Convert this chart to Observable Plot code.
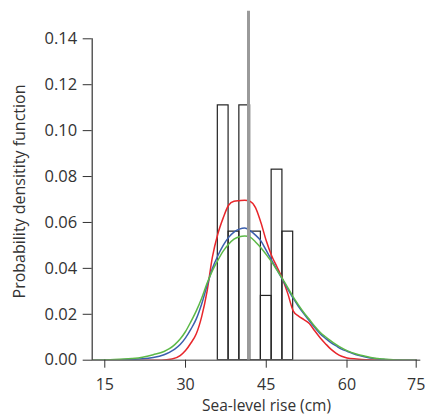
<!DOCTYPE html>
<html><head><meta charset="utf-8">
<script src="https://cdn.jsdelivr.net/npm/d3@7"></script>
<script src="https://cdn.jsdelivr.net/npm/@observablehq/plot@0.6"></script>
<style>body{margin:0;background:#fff} svg{display:block}</style>
</head><body><div id="chart"></div>
<script>
// Histogram (bin edges in cm, probability density)
const binEdges = [36, 38, 40, 42, 44, 46, 48, 50];
const binDensity = [0.111, 0.056, 0.111, 0.056, 0.028, 0.083, 0.056];

// Red density curve
const redX = [12.7, 25.5, 27.5, 29, 30, 31, 32, 33, 34, 35, 36, 37, 38, 39, 40, 41, 42, 43, 44, 45, 46, 47, 48, 49, 50, 51, 52, 53, 54, 55, 56, 57, 58, 59, 60, 62, 64, 67, 70, 75];
const redY = [0, 0, 0.0005, 0.002, 0.0042, 0.0075, 0.0115, 0.019, 0.030, 0.045, 0.055, 0.062, 0.0675, 0.0692, 0.0695, 0.0697, 0.0692, 0.0665, 0.060, 0.052, 0.0455, 0.0406, 0.0355, 0.029, 0.0215, 0.0192, 0.0177, 0.016, 0.0128, 0.0098, 0.0072, 0.0048, 0.003, 0.0017, 0.001, 0.0005, 0.0002, 0.0001, 0, 0];

// Blue density curve
const blueX = [12.7, 18, 22, 24, 26, 27, 28, 29, 30, 31, 32, 33, 34, 35, 36, 37, 38, 39, 40, 41, 42, 43, 44, 45, 46, 47, 48, 49, 50, 51, 52, 53, 54, 55, 56, 57, 58, 59, 60, 62, 64, 66, 68, 70, 75];
const blueY = [0, 0.0002, 0.0006, 0.0012, 0.0024, 0.0034, 0.0048, 0.0068, 0.0097, 0.0135, 0.018, 0.0245, 0.0325, 0.0400, 0.0455, 0.050, 0.0535, 0.0558, 0.0571, 0.0576, 0.0564, 0.0545, 0.052, 0.0478, 0.0435, 0.0393, 0.0352, 0.031, 0.027, 0.0234, 0.0202, 0.0172, 0.0142, 0.0115, 0.0095, 0.0077, 0.0062, 0.0048, 0.0039, 0.0024, 0.0014, 0.0007, 0.0003, 0.0001, 0];

// Green density curve
const greenX = [12.7, 16, 20, 22, 24, 26, 27, 28, 29, 30, 31, 32, 33, 34, 35, 36, 37, 38, 39, 40, 41, 42, 43, 44, 45, 46, 47, 48, 49, 50, 51, 52, 53, 54, 55, 56, 57, 58, 59, 60, 62, 64, 66, 68, 70, 75];
const greenY = [0, 0.0002, 0.0007, 0.0013, 0.0024, 0.0038, 0.005, 0.0068, 0.0092, 0.0125, 0.0168, 0.0215, 0.027, 0.0335, 0.039, 0.0435, 0.0475, 0.0505, 0.0527, 0.0538, 0.0541, 0.0536, 0.0515, 0.049, 0.046, 0.0428, 0.0392, 0.0355, 0.0316, 0.0276, 0.024, 0.0207, 0.0178, 0.0148, 0.0122, 0.0102, 0.0084, 0.0068, 0.0054, 0.0042, 0.0027, 0.0017, 0.0009, 0.0005, 0.0002, 0];

// Observed value (grey vertical line)
const observedRise = 41.7;
const observedTop = 0.152;

// Axes
const xTicks = [15, 30, 45, 60, 75];
const yTicks = [0, 0.02, 0.04, 0.06, 0.08, 0.10, 0.12, 0.14];
const xLabel = "Sea-level rise (cm)";
const yLabel = "Probability densitity function";

const bins = binDensity.map((d, i) => ({x1: binEdges[i], x2: binEdges[i + 1], y: d}));

const xDomain = [12.66, 60, 76];
const xRange = [91.7, 346.5, 420.3];

const chart = Plot.plot({
  width: 425,
  height: 415,
  marginLeft: 91.7,
  marginRight: 4.7,
  marginTop: 38.3,
  marginBottom: 55.3,
  style: {fontFamily: "'Open Sans', sans-serif", fontSize: "16.5px", color: "#333", background: "#fff"},
  x: {type: "linear", domain: xDomain, range: xRange},
  y: {domain: [0, 0.14]},
  marks: [
    Plot.rectY(bins, {x1: "x1", x2: "x2", y: "y", fill: "none", stroke: "#222", strokeWidth: 1.2}),
    Plot.line(redX, {x: redX, y: redY, stroke: "#e8262b", strokeWidth: 1.5, curve: "monotone-x"}),
    Plot.line(blueX, {x: blueX, y: blueY, stroke: "#3b5fae", strokeWidth: 1.5, curve: "monotone-x"}),
    Plot.line(greenX, {x: greenX, y: greenY, stroke: "#5cb947", strokeWidth: 1.5, curve: "monotone-x"}),
    Plot.ruleX([observedRise], {y1: 0, y2: observedTop, stroke: "#9a9a9a", strokeWidth: 3}),
    Plot.ruleY([0], {stroke: "#777", strokeWidth: 1.5}),
    Plot.ruleX([xDomain[0]], {y1: 0, y2: yTicks[yTicks.length - 1], stroke: "#333", strokeWidth: 1.2}),
    Plot.axisX({ticks: xTicks, tickSize: 8, tickPadding: 10, label: null, color: "#333", fontSize: 16}),
    Plot.axisY({ticks: yTicks, tickFormat: ".2f", tickSize: 9, tickPadding: 6, label: null, color: "#333", fontSize: 16.5}),
    Plot.text([xLabel], {frameAnchor: "bottom", textAnchor: "middle", lineAnchor: "middle", dx: 10, dy: 46, fill: "#333", fontSize: 15.5}),
    Plot.text([yLabel], {frameAnchor: "left", textAnchor: "middle", lineAnchor: "middle", rotate: -90, dx: -72.7, dy: -8, fill: "#333", fontSize: 16})
  ]
});
document.getElementById("chart").appendChild(chart);
</script>
</body></html>
